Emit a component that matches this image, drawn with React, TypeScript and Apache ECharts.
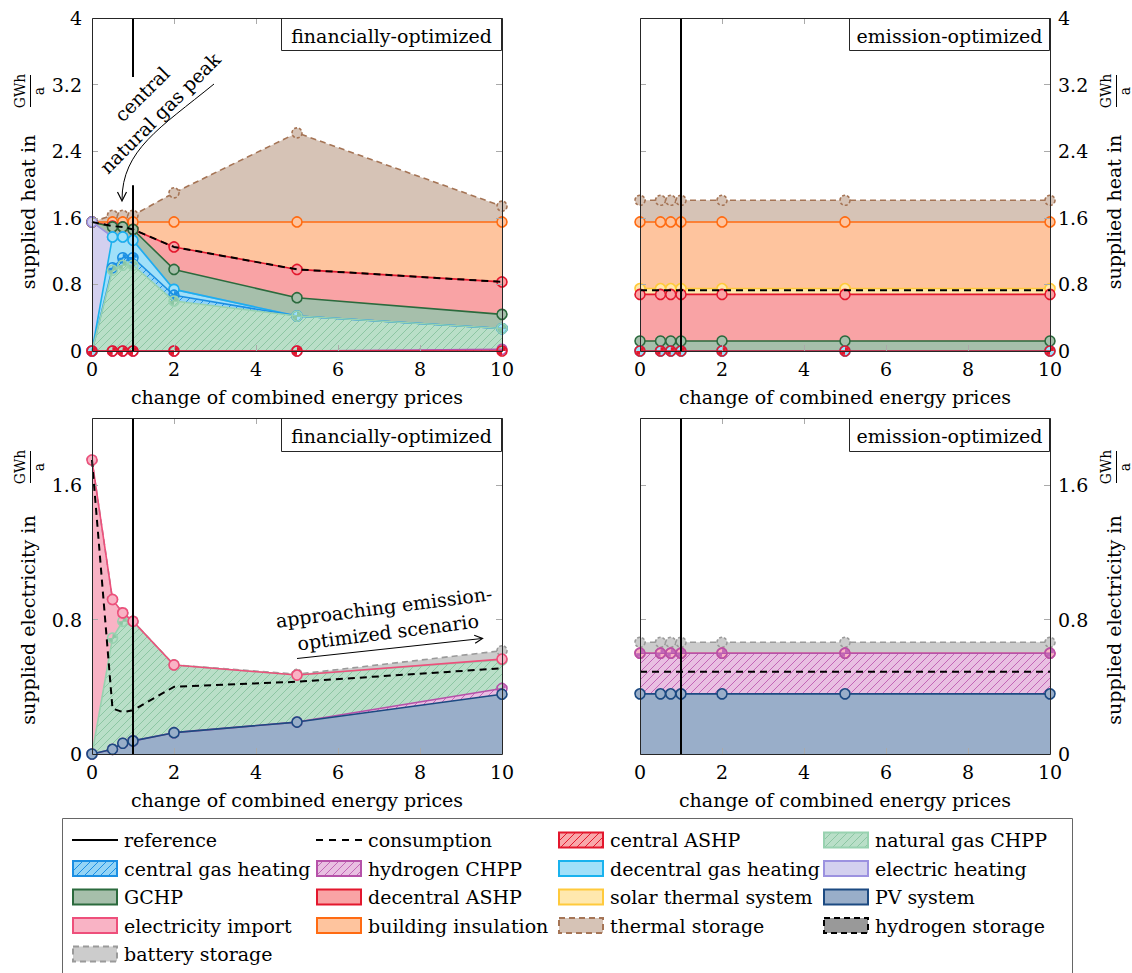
import React, { useEffect, useRef } from "react";
import * as echarts from "echarts";

const FONT = "DejaVu Serif";
const FS = 19;

// ---------------- data ----------------
// change of combined energy prices (x values of all panels)
const priceChange = [0, 0.5, 0.75, 1, 2, 5, 10];
const referencePrice = 1;
// the reference line is hidden behind the annotation text between these heat values
const referenceGap = [1.99, 3.29];

const xTickLabels = [0, 2, 4, 6, 8, 10];
const heatTickLabels = [0, 0.8, 1.6, 2.4, 3.2, 4];
const elecTickLabels = [0, 0.8, 1.6];

// supplied heat, financially-optimized (GWh/a, per technology, stacked bottom -> top)
const heatFinCentralASHP = [0, 0, 0, 0, 0, 0, 0];
const heatFinHydrogenCHPP = [0, 0, 0, 0, 0, 0, 0.02];
const heatFinNaturalGasCHPP = [0, 0.97, 1.03, 1.03, 0.6, 0.42, 0.25];
const heatFinCentralGasHeating = [0, 0.03, 0.09, 0.09, 0.07, 0, 0];
const heatFinDecentralGasHeating = [0, 0.37, 0.25, 0.21, 0.07, 0, 0];
const heatFinElectricHeating = [1.55, 0, 0, 0, 0, 0, 0];
const heatFinGCHP = [0, 0.12, 0.12, 0.13, 0.24, 0.22, 0.17];
const heatFinDecentralASHP = [0, 0.01, 0, 0, 0.27, 0.34, 0.39];
const heatFinBuildingInsulation = [0, 0.05, 0.06, 0.09, 0.3, 0.57, 0.72];
const heatFinThermalStorage = [0, 0.08, 0.08, 0.08, 0.35, 1.07, 0.19];
const heatFinConsumption = [1.55, 1.5, 1.49, 1.46, 1.25, 0.98, 0.83];

// supplied heat, emission-optimized
const heatEmiCentralASHP = [0, 0, 0, 0, 0, 0, 0];
const heatEmiDecentralGasHeating = [0, 0, 0, 0, 0, 0, 0];
const heatEmiGCHP = [0.12, 0.12, 0.12, 0.12, 0.12, 0.12, 0.12];
const heatEmiDecentralASHP = [0.56, 0.56, 0.56, 0.56, 0.56, 0.56, 0.56];
const heatEmiSolarThermal = [0.07, 0.07, 0.07, 0.07, 0.07, 0.07, 0.07];
const heatEmiBuildingInsulation = [0.8, 0.8, 0.8, 0.8, 0.8, 0.8, 0.8];
const heatEmiThermalStorage = [0.26, 0.26, 0.26, 0.26, 0.26, 0.26, 0.26];
const heatEmiConsumption = [0.73, 0.73, 0.73, 0.73, 0.73, 0.73, 0.73];

// supplied electricity, financially-optimized
const elecFinPV = [0, 0.028, 0.064, 0.078, 0.127, 0.19, 0.356];
const elecFinHydrogenCHPP = [0, 0, 0, 0, 0, 0, 0.034];
const elecFinNaturalGasCHPP = [0, 0.662, 0.726, 0.712, 0.403, 0.28, 0.17];
const elecFinImport = [1.75, 0.23, 0.05, 0, 0, 0, 0.005];
const elecFinBatteryStorage = [0, 0, 0, 0, 0, 0.005, 0.05];
const elecFinConsumption = [1.75, 0.27, 0.25, 0.26, 0.4, 0.43, 0.51];

// supplied electricity, emission-optimized
const elecEmiPV = [0.358, 0.358, 0.358, 0.358, 0.358, 0.358, 0.358];
const elecEmiHydrogenCHPP = [0.242, 0.242, 0.242, 0.242, 0.242, 0.242, 0.242];
const elecEmiImport = [0, 0, 0, 0, 0, 0, 0];
const elecEmiBatteryStorage = [0.065, 0.065, 0.065, 0.065, 0.065, 0.065, 0.065];
const elecEmiConsumption = [0.49, 0.49, 0.49, 0.49, 0.49, 0.49, 0.49];

const legendItems = [
  "reference", "consumption", "central ASHP", "natural gas CHPP",
  "central gas heating", "hydrogen CHPP", "decentral gas heating", "electric heating",
  "GCHP", "decentral ASHP", "solar thermal system", "PV system",
  "electricity import", "building insulation", "thermal storage", "hydrogen storage",
  "battery storage",
];

// ---------------- styles ----------------
type Sty = { line: string; fill: string; hatch?: string; dashed?: boolean };
const STYLE: Record<string, Sty> = {
  "central ASHP": { line: "#e3172d", fill: "#f9a7aa", hatch: "#e3172d" },
  "natural gas CHPP": { line: "#98d2b0", fill: "#b9dfc8", hatch: "#8cc6a3" },
  "central gas heating": { line: "#1b8fe3", fill: "#93d4f6", hatch: "#1b8fe3" },
  "hydrogen CHPP": { line: "#b652a9", fill: "#e9bfe2", hatch: "#c266b6" },
  "decentral gas heating": { line: "#19b2ee", fill: "#a1e0f9" },
  "electric heating": { line: "#9c92e0", fill: "#d3d0ef" },
  GCHP: { line: "#2b6a3d", fill: "#a6bfab" },
  "decentral ASHP": { line: "#e3172d", fill: "#f9a3a5" },
  "solar thermal system": { line: "#ffca3c", fill: "#ffe8ae" },
  "PV system": { line: "#1c4a82", fill: "#99aec9" },
  "electricity import": { line: "#ee4f7b", fill: "#f9b3c5" },
  "building insulation": { line: "#ff6b12", fill: "#fec49e" },
  "thermal storage": { line: "#a57455", fill: "#d6c3b6", dashed: true },
  "hydrogen storage": { line: "#000000", fill: "#999999", dashed: true },
  "battery storage": { line: "#9a9a9a", fill: "#cccccc", dashed: true },
};

function hatchPattern(bg: string | null, line: string): any {
  const c = document.createElement("canvas");
  c.width = 8;
  c.height = 8;
  const ctx = c.getContext("2d")!;
  if (bg) {
    ctx.fillStyle = bg;
    ctx.fillRect(0, 0, 8, 8);
  }
  ctx.strokeStyle = line;
  ctx.lineWidth = 1;
  ctx.beginPath();
  ctx.moveTo(-1, 9);
  ctx.lineTo(9, -1);
  ctx.moveTo(-5, 5);
  ctx.lineTo(5, -5);
  ctx.moveTo(3, 13);
  ctx.lineTo(13, 3);
  ctx.stroke();
  return { image: c, repeat: "repeat", imageWidth: 8, imageHeight: 8 };
}

const grids = [
  { left: 92, top: 18, width: 410, height: 333 },
  { left: 640, top: 18, width: 410, height: 333 },
  { left: 92, top: 418, width: 410, height: 336 },
  { left: 640, top: 418, width: 410, height: 336 },
];

function buildOption() {
  const textBase = { fontFamily: FONT, fontSize: FS, color: "#000" };
  const tickStyle = { inside: true, length: 6, lineStyle: { color: "#aaaaaa", width: 1 } };
  const xAxes: any[] = [];
  const yAxes: any[] = [];
  grids.forEach((_, g) => {
    const heat = g < 2;
    const rightSide = g % 2 === 1;
    const ticks = heat ? heatTickLabels : elecTickLabels;
    xAxes.push({
      gridIndex: g, type: "value", position: "bottom", min: 0, max: 10, interval: 2, z: 50,
      axisLine: { show: false, onZero: false }, axisTick: tickStyle, splitLine: { show: false },
      axisLabel: {
        ...textBase, margin: 8,
        formatter: (v: number) => (xTickLabels.includes(Math.round(v)) ? String(Math.round(v)) : ""),
      },
      name: "change of combined energy prices", nameLocation: "middle", nameGap: 36,
      nameTextStyle: textBase,
    });
    xAxes.push({
      gridIndex: g, type: "value", position: "top", min: 0, max: 10, interval: 2, z: 50,
      axisLine: { show: false, onZero: false }, axisTick: tickStyle, splitLine: { show: false },
      axisLabel: { show: false },
    });
    yAxes.push({
      gridIndex: g, type: "value", position: rightSide ? "right" : "left",
      min: 0, max: heat ? 4 : 2, interval: 0.8, z: 50,
      axisLine: { show: false, onZero: false }, axisTick: tickStyle, splitLine: { show: false },
      axisLabel: {
        ...textBase, margin: rightSide ? 8 : 10, showMaxLabel: heat,
        formatter: (v: number) => {
          const r = Math.round(v * 10) / 10;
          return ticks.includes(r) ? String(r) : "";
        },
      },
    });
    yAxes.push({
      gridIndex: g, type: "value", position: rightSide ? "left" : "right",
      min: 0, max: heat ? 4 : 2, interval: 0.8, z: 50,
      axisLine: { show: false, onZero: false }, axisTick: tickStyle, splitLine: { show: false },
      axisLabel: { show: false },
    });
  });

  const xy = (vals: number[]) => priceChange.map((x, i) => [x, vals[i]]);

  // filled band (top layer drawn first, lower layers painted over it)
  const areaSeries = (g: number, name: string, cum: number[], z: number) => {
    const s = STYLE[name];
    return {
      type: "line", name, xAxisIndex: 2 * g, yAxisIndex: 2 * g, data: xy(cum),
      symbol: "none", lineStyle: { width: 0, opacity: 0 },
      areaStyle: { color: s.hatch ? hatchPattern(s.fill, s.hatch) : s.fill, opacity: 1 },
      z, clip: false, silent: true, emphasis: { disabled: true },
    };
  };
  // boundary line and markers of a layer
  const edgeSeries = (g: number, name: string, cum: number[], z: number) => {
    const s = STYLE[name];
    return {
      type: "line", name, xAxisIndex: 2 * g, yAxisIndex: 2 * g, data: xy(cum),
      symbol: "circle", symbolSize: 10, showSymbol: true,
      lineStyle: { color: s.line, width: 1.6, type: s.dashed ? [6, 4] : "solid" },
      itemStyle: {
        color: s.hatch ? hatchPattern(null, s.hatch) : s.fill,
        borderColor: s.line, borderWidth: 1.6, borderType: s.dashed ? [3, 2] : "solid",
      },
      z, clip: false, silent: true, emphasis: { disabled: true },
    };
  };

  const consumptionSeries = (g: number, values: number[]) => ({
    type: "line", name: "consumption", xAxisIndex: 2 * g, yAxisIndex: 2 * g, data: xy(values),
    symbol: "none", lineStyle: { color: "#000", width: 2, type: [7, 5] },
    z: 60, clip: false, silent: true, emphasis: { disabled: true },
  });

  const referenceSeries = (g: number, top: number, gap?: number[]) => ({
    type: "line", name: "reference", xAxisIndex: 2 * g, yAxisIndex: 2 * g,
    data: gap
      ? [[referencePrice, 0], [referencePrice, gap[0]], [referencePrice, "-"], [referencePrice, gap[1]], [referencePrice, top]]
      : [[referencePrice, 0], [referencePrice, top]],
    symbol: "none", lineStyle: { color: "#000", width: 2 }, connectNulls: false,
    z: 61, clip: false, silent: true, emphasis: { disabled: true },
  });

  // [name, values, marker z]  bottom -> top of stack
  const panels: { g: number; layers: [string, number[], number][]; cons: number[] }[] = [
    {
      g: 0, cons: heatFinConsumption,
      layers: [
        ["central ASHP", heatFinCentralASHP, 12],
        ["hydrogen CHPP", heatFinHydrogenCHPP, 11],
        ["natural gas CHPP", heatFinNaturalGasCHPP, 10],
        ["central gas heating", heatFinCentralGasHeating, 9],
        ["decentral gas heating", heatFinDecentralGasHeating, 8],
        ["electric heating", heatFinElectricHeating, 7],
        ["GCHP", heatFinGCHP, 6],
        ["decentral ASHP", heatFinDecentralASHP, 5],
        ["building insulation", heatFinBuildingInsulation, 3],
        ["thermal storage", heatFinThermalStorage, 2],
      ],
    },
    {
      g: 1, cons: heatEmiConsumption,
      layers: [
        ["central ASHP", heatEmiCentralASHP, 12],
        ["decentral gas heating", heatEmiDecentralGasHeating, 8],
        ["GCHP", heatEmiGCHP, 6],
        ["decentral ASHP", heatEmiDecentralASHP, 5],
        ["solar thermal system", heatEmiSolarThermal, 4],
        ["building insulation", heatEmiBuildingInsulation, 3],
        ["thermal storage", heatEmiThermalStorage, 2],
      ],
    },
    {
      g: 2, cons: elecFinConsumption,
      layers: [
        ["PV system", elecFinPV, 7],
        ["hydrogen CHPP", elecFinHydrogenCHPP, 6],
        ["natural gas CHPP", elecFinNaturalGasCHPP, 3],
        ["electricity import", elecFinImport, 4],
        ["battery storage", elecFinBatteryStorage, 2],
      ],
    },
    {
      g: 3, cons: elecEmiConsumption,
      layers: [
        ["PV system", elecEmiPV, 7],
        ["hydrogen CHPP", elecEmiHydrogenCHPP, 6],
        ["electricity import", elecEmiImport, 4],
        ["battery storage", elecEmiBatteryStorage, 2],
      ],
    },
  ];

  const series: any[] = [];
  panels.forEach((p) => {
    const n = p.layers.length;
    let cum = priceChange.map(() => 0);
    p.layers.forEach(([name, vals, mz], i) => {
      cum = cum.map((c, k) => Math.round((c + vals[k]) * 1000) / 1000);
      series.push(areaSeries(p.g, name, cum, 2 + (n - 1 - i)));
      series.push(edgeSeries(p.g, name, cum, 30 + mz));
    });
    series.push(consumptionSeries(p.g, p.cons));
  });
  series.push(referenceSeries(0, 4, referenceGap));
  series.push(referenceSeries(1, 4));
  series.push(referenceSeries(2, 2));
  series.push(referenceSeries(3, 2));

  // ---------------- graphic overlay ----------------
  const gr: any[] = [];
  const txt = (x: number, y: number, text: string, opts: any = {}) => ({
    type: "text", x, y, rotation: opts.rotation || 0, z: opts.z || 110, silent: true,
    style: {
      text, fontFamily: FONT, fontSize: opts.fontSize || FS, fill: "#000",
      align: opts.align || "center", textAlign: opts.align || "center",
      verticalAlign: "middle", textVerticalAlign: "middle",
    },
  });

  grids.forEach((g) =>
    gr.push({
      type: "rect", z: 105, silent: true,
      shape: { x: g.left + 0.5, y: g.top + 0.5, width: g.width, height: g.height },
      style: { fill: "none", stroke: "#262626", lineWidth: 1 },
    })
  );

  const titles = [
    { x: 281.5, y: 18.5, w: 220, h: 32, t: "financially-optimized" },
    { x: 849.5, y: 18.5, w: 200, h: 32, t: "emission-optimized" },
    { x: 281.5, y: 418.5, w: 220, h: 33, t: "financially-optimized" },
    { x: 849.5, y: 418.5, w: 200, h: 33, t: "emission-optimized" },
  ];
  titles.forEach((t) => {
    gr.push({
      type: "rect", z: 100, silent: true, shape: { x: t.x, y: t.y, width: t.w, height: t.h },
      style: { fill: "#fff", stroke: "#262626", lineWidth: 1 },
    });
    gr.push(txt(t.x + t.w / 2, t.y + t.h / 2 + 1, t.t));
  });

  // y-axis titles
  const yTitles = [
    { tx: 28, ty: 212, fy: 91, l: "supplied heat in", gx: 20, bx: 30.5, ax: 39 },
    { tx: 1114, ty: 212, fy: 91, l: "supplied heat in", gx: 1106, bx: 1116.5, ax: 1125 },
    { tx: 28, ty: 620, fy: 467, l: "supplied electricity in", gx: 20, bx: 30.5, ax: 39 },
    { tx: 1114, ty: 620, fy: 467, l: "supplied electricity in", gx: 1106, bx: 1116.5, ax: 1125 },
  ];
  yTitles.forEach((t) => {
    gr.push(txt(t.tx, t.ty, t.l, { rotation: Math.PI / 2 }));
    gr.push(txt(t.gx, t.fy, "GWh", { rotation: Math.PI / 2, fontSize: 14 }));
    gr.push(txt(t.ax, t.fy, "a", { rotation: Math.PI / 2, fontSize: 14 }));
    gr.push({
      type: "line", z: 110, silent: true,
      shape: { x1: t.bx, y1: t.fy - 16, x2: t.bx, y2: t.fy + 16 },
      style: { stroke: "#000", lineWidth: 1 },
    });
  });

  // annotations
  const r45 = Math.PI / 4;
  gr.push(txt(142, 94, "central", { rotation: r45 }));
  gr.push(txt(160, 113, "natural gas peak", { rotation: r45 }));
  gr.push({
    type: "bezierCurve", z: 110, silent: true,
    shape: { x1: 214, y1: 84, cpx1: 160, cpy1: 128, cpx2: 122, cpy2: 150, x2: 122, y2: 200 },
    style: { stroke: "#000", fill: "none", lineWidth: 1 },
  });
  gr.push({
    type: "polyline", z: 110, silent: true,
    shape: { points: [[117.5, 192], [122, 201], [126.5, 192]] },
    style: { stroke: "#000", fill: "none", lineWidth: 1.2 },
  });

  const r7 = (7.3 * Math.PI) / 180;
  gr.push(txt(384, 607, "approaching emission-", { rotation: r7 }));
  gr.push(txt(388, 632, "optimized scenario", { rotation: r7 }));
  gr.push({
    type: "line", z: 110, silent: true,
    shape: { x1: 297, y1: 658.5, x2: 482, y2: 638.5 },
    style: { stroke: "#000", lineWidth: 1 },
  });
  gr.push({
    type: "polyline", z: 110, silent: true,
    shape: { points: [[474.2, 635.3], [482.5, 638.4], [475.2, 643.3]] },
    style: { stroke: "#000", fill: "none", lineWidth: 1.2 },
  });

  // legend
  gr.push({
    type: "rect", z: 90, silent: true, shape: { x: 62.5, y: 818.5, width: 1010, height: 180 },
    style: { fill: "#fff", stroke: "#666", lineWidth: 1 },
  });
  const cols = [72, 316, 558, 823];
  const rows = [840, 868.5, 897, 925.5, 954];
  legendItems.forEach((name, i) => {
    const cx = cols[i % 4];
    const cy = rows[Math.floor(i / 4)];
    if (name === "reference" || name === "consumption") {
      gr.push({
        type: "line", z: 110, silent: true,
        shape: { x1: cx, y1: cy, x2: cx + 46, y2: cy },
        style: { stroke: "#000", lineWidth: 2, lineDash: name === "consumption" ? [7, 6] : null },
      });
    } else {
      const s = STYLE[name];
      gr.push({
        type: "rect", z: 110, silent: true,
        shape: { x: cx + 1, y: cy - 7.5, width: 44, height: 15 },
        style: {
          fill: s.hatch ? hatchPattern(s.fill, s.hatch) : s.fill,
          stroke: s.line, lineWidth: 2, lineDash: s.dashed ? [6, 4] : null,
        },
      });
    }
    gr.push(txt(cx + 52, cy, name, { align: "left" }));
  });

  return {
    animation: false,
    textStyle: { fontFamily: FONT },
    grid: grids.map((g) => ({ ...g, containLabel: false })),
    xAxis: xAxes,
    yAxis: yAxes,
    series,
    graphic: { elements: gr },
  };
}

export default function App() {
  const ref = useRef<HTMLDivElement>(null);
  useEffect(() => {
    document.body.style.margin = "0";
    if (!ref.current) return;
    const chart = echarts.init(ref.current, null, { renderer: "svg" });
    chart.setOption(buildOption() as any);
    return () => chart.dispose();
  }, []);
  return <div ref={ref} style={{ width: 1132, height: 973, background: "#fff" }} />;
}
